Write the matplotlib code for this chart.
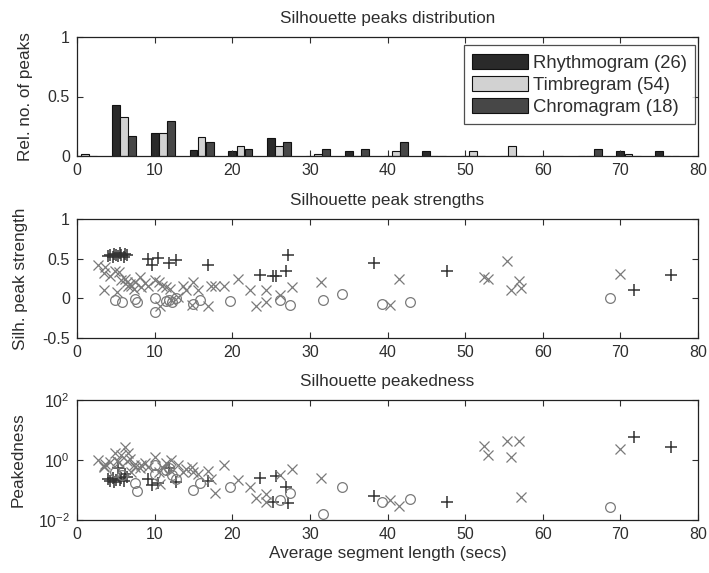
#! /usr/bin/env python3

"""
Silhouette peak statistics for three feature representations:
peak distribution, peak strengths and peakedness vs. segment length.
"""

import numpy as np
import matplotlib.pyplot as plt
from matplotlib.ticker import LogLocator, NullLocator

plt.rcParams['font.family'] = ['Liberation Sans', 'DejaVu Sans']
plt.rcParams['font.size'] = 11
plt.rcParams['mathtext.default'] = 'regular'

# series names and number of peaks
names = ['Rhythmogram (26)', 'Timbregram (54)', 'Chromagram (18)']

# histogram: bin starts (secs) and relative number of peaks per series
bins = [0, 5, 10, 15, 20, 25, 30, 35, 40, 45, 50, 55, 60, 65, 70, 75]
rel_rhythm = [0, 0.43, 0.19, 0.05, 0.045, 0.155, 0, 0.045, 0, 0.045, 0, 0, 0, 0, 0.045, 0.045]
rel_timbre = [0.02, 0.325, 0.19, 0.157, 0.085, 0.085, 0.02, 0, 0.04, 0, 0.045, 0.085, 0, 0, 0.02, 0]
rel_chroma = [0, 0.17, 0.29, 0.12, 0.06, 0.12, 0.06, 0.06, 0.115, 0, 0, 0, 0, 0.06, 0, 0]

# rhythmogram peaks: segment length, strength, peakedness (log10)
rh_len = [4.0, 4.3, 4.6, 4.8, 5.0, 5.3, 5.5, 5.7, 6.0, 6.2, 6.4,
          9.2, 9.6, 10.4, 11.9, 12.8, 16.9, 23.6, 25.3, 25.7, 26.9, 27.2,
          38.3, 47.7, 71.7, 76.5]
rh_str = [0.53, 0.55, 0.52, 0.56, 0.54, 0.53, 0.57, 0.55, 0.52, 0.56, 0.55,
          0.49, 0.42, 0.51, 0.44, 0.48, 0.42, 0.29, 0.28, 0.28, 0.35, 0.55,
          0.44, 0.345, 0.11, 0.29]
rh_pk = [-0.62, -0.70, -0.59, -0.72, -0.65, -0.28, -0.67, -0.60, -0.70, -0.45, -0.55,
         -0.62, -0.83, -0.78, -0.28, -0.72, -0.69, -0.61, -1.39, -0.53, -0.89, -1.44,
         -1.2, -1.39, 0.78, 0.42]

# timbregram peaks
tb_len = [2.75, 3.5, 3.5, 3.6, 4.9, 5.2, 5.4, 5.7, 6.2, 6.4, 6.6, 7.0, 7.3, 7.5,
          8.1, 8.3, 9.1, 10.0, 10.5, 10.7, 10.9, 11.5, 12.0, 12.1, 13.6, 14.0,
          14.8, 15.0, 15.6, 16.9, 17.3, 17.8, 18.9, 20.7, 22.3, 23.1, 24.4, 24.4,
          26.2, 27.7, 31.4, 40.3, 41.5, 52.4, 53.0, 55.4, 55.9, 56.9, 57.2, 69.9,
          4.2, 6.8, 8.8, 13.0]
tb_str = [0.42, 0.32, 0.10, 0.39, 0.35, 0.08, 0.33, 0.23, 0.25, 0.21, 0.15, 0.16, 0.12, 0.21,
          0.27, 0.14, 0.16, 0.23, 0.21, -0.1, 0.16, 0.14, 0.12, -0.025, 0.15, 0.11,
          -0.09, 0.2, 0.10, -0.1, 0.16, 0.15, 0.15, 0.25, 0.10, -0.1, 0.10, -0.05,
          0.04, 0.14, 0.21, -0.09, 0.24, 0.27, 0.24, 0.47, 0.11, 0.22, 0.13, 0.31,
          0.28, 0.18, 0.19, 0.02]
tb_pk = [0.0, -0.24, -0.2, -0.13, 0.24, -0.02, -0.06, 0.16, 0.42, -0.04, 0.22, -0.39, -0.17, -0.22,
         -0.28, -0.17, -0.22, 0.11, -0.39, -0.8, -0.24, -0.09, -0.33, 0.0, -0.39, -0.31,
         -0.22, -0.39, -0.47, -0.36, -0.64, -1.09, -0.17, -0.67, -0.91, -1.28, -1.39, -1.13,
         -0.5, -0.3, -0.6, -1.33, -1.53, 0.47, 0.17, 0.64, 0.11, 0.64, -1.22, 0.36,
         -0.05, 0.05, -0.1, -0.15]

# chromagram peaks
ch_len = [4.9, 5.8, 7.5, 7.7, 10.0, 10.0, 11.5, 11.8, 12.3, 12.8, 15.0, 15.9,
          19.7, 26.2, 27.4, 31.7, 34.2, 39.3, 42.9, 68.7]
ch_str = [-0.02, -0.04, -0.01, -0.05, 0.01, -0.17, -0.03, -0.02, -0.05, 0.0, -0.07, -0.02,
          -0.03, -0.02, -0.09, -0.02, 0.05, -0.07, -0.05, 0.0]
ch_pk = [-0.4, -0.5, -0.76, -1.02, -0.17, -0.47, -0.33, -0.25, -0.5, -0.64, -1.0, -0.76,
         -0.89, -1.33, -1.09, -1.8, -0.89, -1.39, -1.31, -1.56]

txt = '#2e2e2e'
bar_cols = ['#2a2a2a', '#d2d2d2', '#474747']
W, H = 709, 573

fig = plt.figure(figsize=(W / 100, H / 100), dpi=100)


def make_axes(top, bottom):
    ax = fig.add_axes([77 / W, 1 - bottom / H, 621 / W, (bottom - top) / H])
    ax.tick_params(direction='in', top=True, right=True, length=4, colors=txt,
                   labelsize=11.5, width=0.8, pad=5)
    for s in ax.spines.values():
        s.set_color('#222222')
        s.set_linewidth(0.9)
    ax.set_xlim(0, 80)
    ax.set_xticks(range(0, 81, 10))
    return ax


# top: peak distribution
ax1 = make_axes(37, 156)
b = np.array(bins)
for i, (vals, name) in enumerate(zip([rel_rhythm, rel_timbre, rel_chroma], names)):
    ax1.bar(b + 1.05 * i, vals, width=1.0, align='center', color=bar_cols[i],
            edgecolor='#111111', linewidth=0.8, label=name)
ax1.set_ylim(0, 1)
ax1.set_yticks([0, 0.5, 1])
ax1.set_yticklabels(['0', '0.5', '1'])
ax1.set_title('Silhouette peaks distribution', fontsize=12.3, color=txt, pad=10)
ax1.set_ylabel('Rel. no. of peaks', color=txt, fontsize=12.3)
ax1.yaxis.set_label_coords(-0.071, 0.5)
leg = ax1.legend(loc='upper right', bbox_to_anchor=(0.995, 0.93), borderaxespad=0,
                 fancybox=False, edgecolor='#222222', handlelength=3.0,
                 handleheight=0.9, handletextpad=0.27, labelspacing=0.22,
                 borderpad=0.45, fontsize=13.3)
leg.get_frame().set_linewidth(0.9)
for t in leg.get_texts():
    t.set_color(txt)

# middle: peak strengths
ax2 = make_axes(219, 338)
ax2.plot(rh_len, rh_str, '+', color='#333333', ms=8, mew=1.1)
ax2.plot(tb_len, tb_str, 'x', color='#7a7a7a', ms=6.5, mew=0.9)
ax2.plot(ch_len, ch_str, 'o', mfc='none', mec='#7a7a7a', ms=7, mew=0.9)
ax2.set_ylim(-0.5, 1)
ax2.set_yticks([-0.5, 0, 0.5, 1])
ax2.set_yticklabels(['-0.5', '0', '0.5', '1'])
ax2.set_title('Silhouette peak strengths', fontsize=12.3, color=txt, pad=10)
ax2.set_ylabel('Silh. peak strength', color=txt, fontsize=12.3)
ax2.yaxis.set_label_coords(-0.079, 0.5)

# bottom: peakedness
ax3 = make_axes(400, 520)
ax3.set_yscale('log')
ax3.plot(rh_len, 10 ** np.array(rh_pk), '+', color='#333333', ms=8, mew=1.1)
ax3.plot(tb_len, 10 ** np.array(tb_pk), 'x', color='#7a7a7a', ms=6.5, mew=0.9)
ax3.plot(ch_len, 10 ** np.array(ch_pk), 'o', mfc='none', mec='#7a7a7a', ms=7, mew=0.9)
ax3.set_ylim(1e-2, 1e2)
ax3.yaxis.set_major_locator(LogLocator(base=100))
ax3.yaxis.set_minor_locator(NullLocator())
ax3.set_title('Silhouette peakedness', fontsize=12.3, color=txt, pad=10)
ax3.set_ylabel('Peakedness', color=txt, fontsize=12.3)
ax3.yaxis.set_label_coords(-0.082, 0.5)
ax3.set_xlabel('Average segment length (secs)', color=txt, fontsize=12.3, labelpad=3)

plt.savefig('out.png', dpi=100)
